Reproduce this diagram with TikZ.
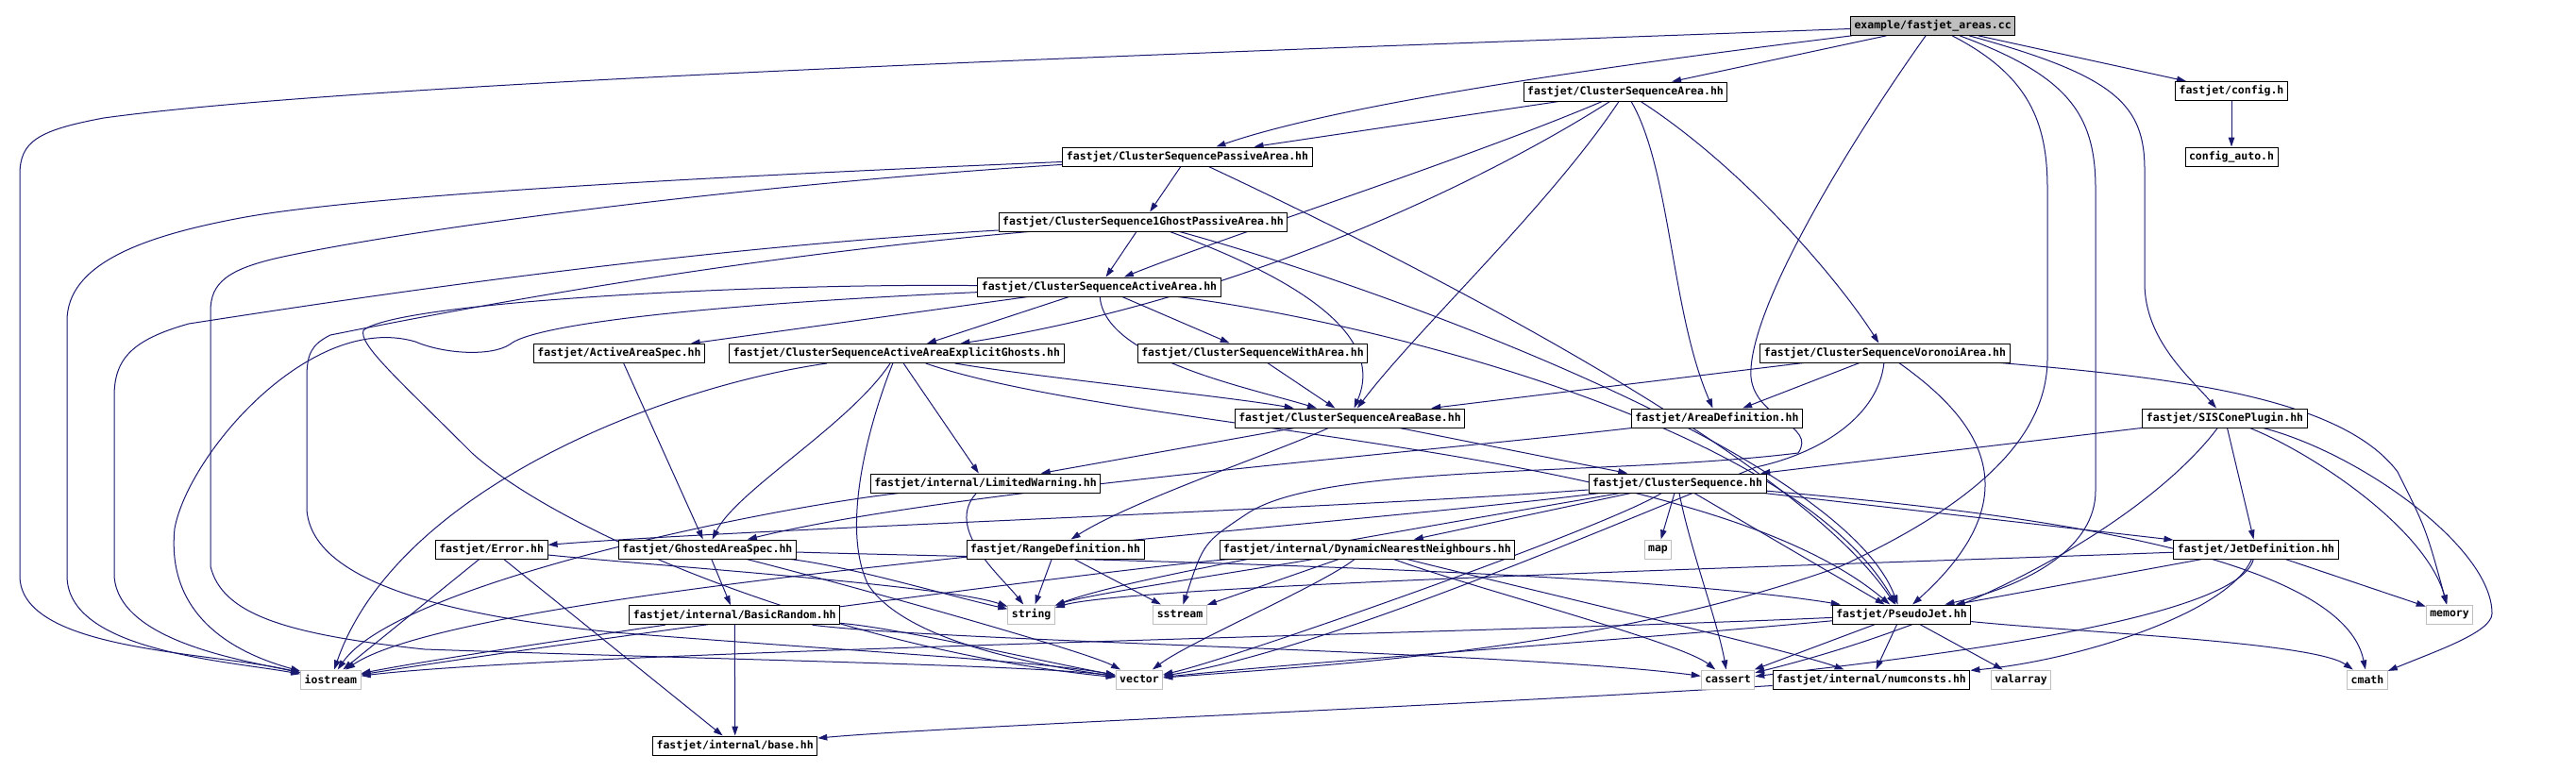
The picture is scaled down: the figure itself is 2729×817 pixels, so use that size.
\documentclass[tikz,border=0pt]{standalone}
\usepackage{fontspec}
\setmonofont{DejaVu Sans Mono}
\usetikzlibrary{arrows.meta}
\definecolor{edgeblue}{HTML}{191970}
\definecolor{sysgray}{HTML}{BFBFBF}
\pgfdeclarelayer{edges}
\pgfsetlayers{edges,main}
\begin{document}
\begin{tikzpicture}[
  x=1pt, y=-1pt,
  every node/.style={draw,fill=white,line width=1pt,font=\ttfamily\bfseries\fontsize{11.5}{12}\selectfont,
    minimum height=20pt,inner xsep=4pt,inner ysep=0pt},
  sysnode/.style={draw=sysgray},
  rootnode/.style={fill=sysgray},
  edge/.style={draw=edgeblue,line width=1pt,-{Triangle[length=10pt,width=6.5pt]}},
  ]
  \useasboundingbox (0,0) rectangle (2729,817);
  % header files
  \node[rootnode](areas) at (2047.6,27.3) {example/fastjet\_areas.cc};
  \node(config) at (2364,96.5) {fastjet/config.h};
  \node(configauto) at (2364,166) {config\_auto.h};
  \node(csarea) at (1722,97) {fastjet/ClusterSequenceArea.hh};
  \node(passive) at (1258,166) {fastjet/ClusterSequencePassiveArea.hh};
  \node(oneghost) at (1211,235) {fastjet/ClusterSequence1GhostPassiveArea.hh};
  \node(active) at (1164.5,304) {fastjet/ClusterSequenceActiveArea.hh};
  \node(aaspec) at (656,374.5) {fastjet/ActiveAreaSpec.hh};
  \node(explicit) at (950,374.5) {fastjet/ClusterSequenceActiveAreaExplicitGhosts.hh};
  \node(witharea) at (1327,374) {fastjet/ClusterSequenceWithArea.hh};
  \node(areabase) at (1430,443) {fastjet/ClusterSequenceAreaBase.hh};
  \node(areadef) at (1819,443) {fastjet/AreaDefinition.hh};
  \node(voronoi) at (1997,374) {fastjet/ClusterSequenceVoronoiArea.hh};
  \node(siscone) at (2357,443) {fastjet/SISConePlugin.hh};
  \node(limwarn) at (1044,512) {fastjet/internal/LimitedWarning.hh};
  \node(cs) at (1777,512) {fastjet/ClusterSequence.hh};
  \node(error) at (520.7,582) {fastjet/Error.hh};
  \node(ghosted) at (749.4,582) {fastjet/GhostedAreaSpec.hh};
  \node(basicrandom) at (778.3,651.7) {fastjet/internal/BasicRandom.hh};
  \node(base) at (778.7,790) {fastjet/internal/base.hh};
  \node(rangedef) at (1118,582) {fastjet/RangeDefinition.hh};
  \node(dnn) at (1448.5,582) {fastjet/internal/DynamicNearestNeighbours.hh};
  \node(pseudojet) at (2014.5,651) {fastjet/PseudoJet.hh};
  \node(jetdef) at (2390,582) {fastjet/JetDefinition.hh};
  \node(numconsts) at (1982.5,720) {fastjet/internal/numconsts.hh};
  % system headers
  \node[sysnode](iostream) at (350.4,720) {iostream};
  \node[sysnode](map) at (1756.5,582) {map};
  \node[sysnode](string) at (1092.6,651) {string};
  \node[sysnode](sstream) at (1250,651) {sstream};
  \node[sysnode](vector) at (1207,720) {vector};
  \node[sysnode](cassert) at (1830.5,720) {cassert};
  \node[sysnode](valarray) at (2141,720) {valarray};
  \node[sysnode](memory) at (2595,651) {memory};
  \node[sysnode](cmath) at (2508,720) {cmath};
  \begin{pgfonlayer}{edges}
  % example/fastjet_areas.cc
  \draw[edge] (areas) .. controls (1300,55) and (400,85) .. (110,125) .. controls (40,138) and (21,150) .. (21,185) -- (21,610) .. controls (21,690) and (220,690) .. (iostream);
  \draw[edge] (areas) .. controls (1700,70) and (1420,110) .. (passive);
  \draw[edge] (areas) -- (csarea);
  \draw[edge] (areas) .. controls (1960,150) and (1850,330) .. (1855,400) .. controls (1860,445) and (1925,450) .. (1905,480) .. controls (1700,505) and (1400,490) .. (1320,545) .. controls (1275,575) .. (sstream);
  \draw[edge] (areas) .. controls (2150,80) and (2169,130) .. (2169,200) -- (2169,380) .. controls (2169,470) and (2080,540) .. (1950,600) .. controls (1700,690) and (1400,705) .. (vector);
  \draw[edge] (areas) .. controls (2190,80) and (2220,120) .. (2220,200) -- (2220,520) .. controls (2220,580) and (2150,620) .. (pseudojet);
  \draw[edge] (areas) .. controls (2240,80) and (2272,110) .. (2272,180) -- (2272,300) .. controls (2272,360) and (2320,400) .. (siscone);
  \draw[edge] (areas) -- (config);
  \draw[edge] (config) -- (configauto);
  % fastjet/ClusterSequenceArea.hh
  \draw[edge] (csarea) -- (passive);
  \draw[edge] (csarea) .. controls (1550,170) and (1300,250) .. (active);
  \draw[edge] (csarea) .. controls (1560,200) and (1300,320) .. (explicit);
  \draw[edge] (csarea) .. controls (1640,220) and (1500,350) .. (areabase);
  \draw[edge] (csarea) .. controls (1770,180) and (1770,330) .. (areadef);
  \draw[edge] (csarea) .. controls (1850,180) and (1950,300) .. (voronoi);
  % fastjet/ClusterSequencePassiveArea.hh
  \draw[edge] (passive) -- (oneghost);
  \draw[edge] (passive) .. controls (800,185) and (400,205) .. (260,230) .. controls (150,250) and (71,280) .. (71,340) -- (71,610) .. controls (71,690) and (240,700) .. (iostream);
  \draw[edge] (passive) .. controls (800,195) and (450,240) .. (300,272) .. controls (240,285) and (223,300) .. (223,330) -- (223,600) .. controls (235,650) and (300,672) .. (450,688) .. controls (800,700) and (1100,705) .. (vector);
  \draw[edge] (passive) .. controls (1480,270) and (1900,480) .. (pseudojet);
  % fastjet/ClusterSequence1GhostPassiveArea.hh
  \draw[edge] (oneghost) -- (active);
  \draw[edge] (oneghost) .. controls (1360,290) and (1470,350) .. (areabase);
  \draw[edge] (oneghost) .. controls (1450,300) and (1950,480) .. (pseudojet);
  \draw[edge] (oneghost) .. controls (700,265) and (350,320) .. (200,343) .. controls (140,360) and (121,380) .. (121,420) -- (121,610) .. controls (125,680) and (260,700) .. (iostream);
  \draw[edge] (oneghost) .. controls (750,275) and (450,335) .. (350,355) .. controls (330,365) and (325,375) .. (325,400) -- (325,540) .. controls (330,610) and (450,650) .. (650,670) .. controls (900,690) and (1100,700) .. (vector);
  % fastjet/ClusterSequenceActiveArea.hh
  \draw[edge] (active) -- (aaspec);
  \draw[edge] (active) -- (explicit);
  \draw[edge] (active) -- (witharea);
  \draw[edge] (active) .. controls (1170,380) and (1320,410) .. (areabase);
  \draw[edge] (active) .. controls (1450,340) and (1900,450) .. (pseudojet);
  \draw[edge] (active) .. controls (800,320) and (570,340) .. (540,365) .. controls (520,378) and (470,375) .. (440,362) .. controls (330,330) and (200,480) .. (185,560) .. controls (175,660) and (260,695) .. (iostream);
  \draw[edge] (active) .. controls (800,300) and (420,320) .. (385,350) .. controls (380,365) and (420,400) .. (500,480) .. controls (600,570) and (900,690) .. (vector);
  \draw[edge] (aaspec) -- (ghosted);
  % fastjet/ClusterSequenceActiveAreaExplicitGhosts.hh
  \draw[edge] (explicit) .. controls (1100,400) and (1300,420) .. (areabase);
  \draw[edge] (explicit) -- (limwarn);
  \draw[edge] (explicit) .. controls (900,450) and (780,520) .. (ghosted);
  \draw[edge] (explicit) .. controls (920,450) and (890,560) .. (920,620) .. controls (960,680) and (1100,705) .. (vector);
  \draw[edge] (explicit) .. controls (1200,460) and (1800,470) .. (pseudojet);
  \draw[edge] (explicit) .. controls (700,410) and (420,520) .. (iostream);
  \draw[edge] (witharea) -- (areabase);
  % fastjet/ClusterSequenceAreaBase.hh
  \draw[edge] (areabase) -- (limwarn);
  \draw[edge] (areabase) .. controls (1350,480) and (1200,530) .. (rangedef);
  \draw[edge] (areabase) -- (cs);
  % fastjet/ClusterSequenceVoronoiArea.hh
  \draw[edge] (voronoi) -- (areabase);
  \draw[edge] (voronoi) -- (areadef);
  \draw[edge] (voronoi) .. controls (2090,440) and (2160,520) .. (pseudojet);
  \draw[edge] (voronoi) .. controls (2300,400) and (2480,420) .. (2540,500) .. controls (2570,560) .. (memory);
  \draw[edge] (voronoi) .. controls (1990,440) and (1930,480) .. (1860,495) .. controls (1700,560) and (1400,690) .. (vector);
  \draw[edge] (areadef) .. controls (1500,480) and (1000,520) .. (ghosted);
  % fastjet/SISConePlugin.hh
  \draw[edge] (siscone) -- (jetdef);
  \draw[edge] (siscone) -- (cs);
  \draw[edge] (siscone) .. controls (2450,480) and (2570,560) .. (memory);
  \draw[edge] (siscone) .. controls (2500,480) and (2640,580) .. (2640,650) .. controls (2640,670) and (2580,690) .. (cmath);
  \draw[edge] (siscone) .. controls (2300,520) and (2150,640) .. (cassert);
  % fastjet/internal/LimitedWarning.hh
  \draw[edge] (limwarn) .. controls (800,540) and (420,620) .. (iostream);
  \draw[edge] (limwarn) .. controls (1000,560) and (1060,610) .. (string);
  % fastjet/ClusterSequence.hh
  \draw[edge] (cs) .. controls (1400,540) and (800,560) .. (error);
  \draw[edge] (cs) .. controls (1400,560) and (500,620) .. (iostream);
  \draw[edge] (cs) .. controls (1500,560) and (1200,610) .. (string);
  \draw[edge] (cs) -- (dnn);
  \draw[edge] (cs) .. controls (1700,560) and (1300,700) .. (vector);
  \draw[edge] (cs) -- (map);
  \draw[edge] (cs) .. controls (1790,580) and (1820,660) .. (cassert);
  \draw[edge] (cs) -- (pseudojet);
  \draw[edge] (cs) -- (jetdef);
  \draw[edge] (cs) .. controls (2100,540) and (2480,580) .. (cmath);
  % fastjet/Error.hh
  \draw[edge] (error) -- (iostream);
  \draw[edge] (error) -- (base);
  \draw[edge] (error) .. controls (700,600) and (1000,620) .. (string);
  % fastjet/GhostedAreaSpec.hh
  \draw[edge] (ghosted) -- (basicrandom);
  \draw[edge] (ghosted) .. controls (900,620) and (1150,690) .. (vector);
  \draw[edge] (ghosted) .. controls (900,600) and (1000,630) .. (string);
  \draw[edge] (ghosted) .. controls (1000,590) and (1700,600) .. (pseudojet);
  % fastjet/internal/BasicRandom.hh
  \draw[edge] (basicrandom) -- (base);
  \draw[edge] (basicrandom) .. controls (650,670) and (450,700) .. (iostream);
  \draw[edge] (basicrandom) .. controls (950,665) and (1100,700) .. (vector);
  \draw[edge] (basicrandom) .. controls (1000,680) and (1600,690) .. (cassert);
  % fastjet/RangeDefinition.hh
  \draw[edge] (rangedef) -- (string);
  \draw[edge] (rangedef) -- (sstream);
  % fastjet/internal/DynamicNearestNeighbours.hh
  \draw[edge] (dnn) .. controls (1200,600) and (600,680) .. (iostream);
  \draw[edge] (dnn) .. controls (1350,600) and (1150,630) .. (string);
  \draw[edge] (dnn) -- (sstream);
  \draw[edge] (dnn) .. controls (1400,620) and (1260,680) .. (vector);
  \draw[edge] (dnn) .. controls (1550,620) and (1780,680) .. (cassert);
  \draw[edge] (dnn) .. controls (1600,620) and (1900,690) .. (numconsts);
  % fastjet/PseudoJet.hh
  \draw[edge] (pseudojet) .. controls (1600,670) and (600,690) .. (iostream);
  \draw[edge] (pseudojet) .. controls (1700,680) and (1400,700) .. (vector);
  \draw[edge] (pseudojet) -- (cassert);
  \draw[edge] (pseudojet) -- (numconsts);
  \draw[edge] (pseudojet) -- (valarray);
  \draw[edge] (pseudojet) .. controls (2200,670) and (2450,680) .. (cmath);
  % fastjet/JetDefinition.hh
  \draw[edge] (jetdef) -- (pseudojet);
  \draw[edge] (jetdef) .. controls (1900,600) and (1200,620) .. (string);
  \draw[edge] (jetdef) .. controls (2360,650) and (2200,700) .. (numconsts);
  \draw[edge] (jetdef) .. controls (2370,660) and (2000,700) .. (cassert);
  \draw[edge] (jetdef) -- (memory);
  \draw[edge] (numconsts) .. controls (1500,750) and (1000,770) .. (base);
  \end{pgfonlayer}
\end{tikzpicture}
\end{document}
